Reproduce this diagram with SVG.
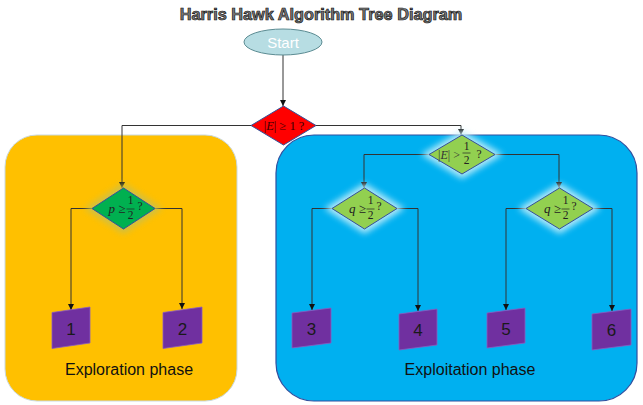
<svg xmlns="http://www.w3.org/2000/svg" width="643" height="405" viewBox="0 0 643 405">
<defs>
<style>
.title{font-family:"Liberation Sans",Arial,sans-serif;font-weight:bold;font-size:16.3px;fill:#7a7a7a;stroke:#111;stroke-width:0.7px;text-anchor:middle}
.phase{font-family:"Liberation Sans",Arial,sans-serif;font-size:16px;fill:#111;text-anchor:middle}
.num{font-family:"Liberation Sans",Arial,sans-serif;font-size:17px;fill:#1a1a1a;text-anchor:middle}
.math{font-family:"Liberation Serif","Times New Roman",serif;font-size:13px;fill:#222}
.frac{font-family:"Liberation Serif","Times New Roman",serif;font-size:11.5px;fill:#222;text-anchor:middle}
.conn{fill:none;stroke:#333;stroke-width:1}
.dia{stroke:#34509a;stroke-width:1}
.card{fill:#7030a0;stroke:#8a5cc0;stroke-width:0.8}
.bar{stroke:#222;stroke-width:0.7}
</style>
<marker id="arr" markerUnits="userSpaceOnUse" markerWidth="7" markerHeight="7" refX="6" refY="3" orient="auto">
<path d="M0,0 L6,3 L0,6 z" fill="#111"/>
</marker>
<filter id="blur" x="-50%" y="-50%" width="200%" height="200%">
<feGaussianBlur stdDeviation="3"/>
</filter>
</defs>
<rect width="643" height="405" fill="#ffffff"/>

<text class="title" x="321" y="19.5">Harris Hawk Algorithm Tree Diagram</text>

<g id="exploration-region">
<rect x="5" y="135" width="232" height="266" rx="32" fill="#ffc000" stroke="#c9d9e0" stroke-width="1"/>
<text class="phase" x="129" y="375">Exploration phase</text>
</g>
<g id="exploitation-region">
<rect x="276" y="135" width="361" height="266" rx="38" fill="#00b0f0" stroke="#2f4f9f" stroke-width="1.2"/>
<text class="phase" x="470" y="375">Exploitation phase</text>
</g>

<g id="connectors">
<path class="conn" d="M283,55 V106" marker-end="url(#arr)"/>
<path class="conn" d="M251,125.5 H122 V188" marker-end="url(#arr)"/>
<path class="conn" d="M316,125.5 H461 V135" marker-end="url(#arr)"/>
<path class="conn" d="M92,208.5 H71 V310" marker-end="url(#arr)"/>
<path class="conn" d="M155,208.5 H182 V309" marker-end="url(#arr)"/>
<path class="conn" d="M429,154.5 H364 V188" marker-end="url(#arr)"/>
<path class="conn" d="M495,154.5 H559 V188" marker-end="url(#arr)"/>
<path class="conn" d="M332,208.5 H312 V310" marker-end="url(#arr)"/>
<path class="conn" d="M397,208.5 H418 V311" marker-end="url(#arr)"/>
<path class="conn" d="M526,208.5 H506 V310" marker-end="url(#arr)"/>
<path class="conn" d="M593,208.5 H612 V311" marker-end="url(#arr)"/>
</g>

<g id="start">
<ellipse cx="283" cy="42" rx="39" ry="13" fill="#b7dde3" stroke="#5b8b92" stroke-width="1"/>
<text x="283" y="47.5" font-family="'Liberation Sans',Arial,sans-serif" font-size="15" fill="#ffffff" text-anchor="middle">Start</text>
</g>

<g id="decision-E1">
<polygon class="dia" points="283.5,106 316,125.5 283.5,145 251,125.5" fill="#ff0000"/>
<text class="math" x="284" y="130" text-anchor="middle" style="fill:#3a0000;font-size:12.5px">|<tspan font-style="italic">E</tspan>| ≥ 1 ?</text>
</g>

<g id="decision-p">
<polygon points="123.5,188 155,208.5 123.5,229 92,208.5" fill="#c8c050" stroke="#c8c050" stroke-width="8" filter="url(#blur)" opacity="0.9"/>
<polygon class="dia" points="123.5,188 155,208.5 123.5,229 92,208.5" fill="#00b050"/>
<text class="math" x="125.5" y="212.5" text-anchor="end"><tspan font-style="italic">p</tspan> ≥</text>
<text class="frac" x="130.5" y="204">1</text>
<line class="bar" x1="126.5" y1="209" x2="134.5" y2="209"/>
<text class="frac" x="130.5" y="218.5">2</text>
<text class="frac" x="140" y="210">?</text>
</g>

<g id="decision-E-half">
<polygon points="462,135 495,154.5 462,174 429,154.5" fill="#c8f0fa" stroke="#c8f0fa" stroke-width="8" filter="url(#blur)" opacity="0.9"/>
<polygon class="dia" points="462,135 495,154.5 462,174 429,154.5" fill="#92d050"/>
<text class="math" x="460" y="158.5" text-anchor="end" style="font-size:12px;fill:#333">|<tspan font-style="italic">E</tspan>| &gt;</text>
<text class="frac" x="466.5" y="150">1</text>
<line class="bar" x1="462.5" y1="153" x2="470.5" y2="153"/>
<text class="frac" x="466.5" y="164">2</text>
<text class="frac" x="479" y="158">?</text>
</g>

<g id="decision-q-left">
<polygon points="364.5,188 397,208.5 364.5,229 332,208.5" fill="#c8f0fa" stroke="#c8f0fa" stroke-width="8" filter="url(#blur)" opacity="0.9"/>
<polygon class="dia" points="364.5,188 397,208.5 364.5,229 332,208.5" fill="#92d050"/>
<text class="math" x="366" y="212.5" text-anchor="end"><tspan font-style="italic">q</tspan> ≥</text>
<text class="frac" x="370.5" y="204">1</text>
<line class="bar" x1="366.5" y1="209" x2="374.5" y2="209"/>
<text class="frac" x="370.5" y="218.5">2</text>
<text class="frac" x="379" y="210">?</text>
</g>

<g id="decision-q-right">
<polygon points="559.5,188 593,208.5 559.5,229 526,208.5" fill="#c8f0fa" stroke="#c8f0fa" stroke-width="8" filter="url(#blur)" opacity="0.9"/>
<polygon class="dia" points="559.5,188 593,208.5 559.5,229 526,208.5" fill="#92d050"/>
<text class="math" x="561" y="212.5" text-anchor="end"><tspan font-style="italic">q</tspan> ≥</text>
<text class="frac" x="565.5" y="204">1</text>
<line class="bar" x1="561.5" y1="209" x2="569.5" y2="209"/>
<text class="frac" x="565.5" y="218.5">2</text>
<text class="frac" x="574" y="210">?</text>
</g>

<g id="node-1">
<polygon class="card" points="52,312.5 90,307 90,343 52,348.5"/>
<text class="num" x="71" y="334.5">1</text>
</g>
<g id="node-2">
<polygon class="card" points="163,312.5 202,307 202,343 163,348.5"/>
<text class="num" x="182.5" y="334.5">2</text>
</g>
<g id="node-3">
<polygon class="card" points="292,313 331,308 331,343 292,348"/>
<text class="num" x="311.5" y="334.5">3</text>
</g>
<g id="node-4">
<polygon class="card" points="399,314 437,309 437,345 399,350"/>
<text class="num" x="418" y="336">4</text>
</g>
<g id="node-5">
<polygon class="card" points="487,313 525,308 525,343 487,348"/>
<text class="num" x="506" y="334.5">5</text>
</g>
<g id="node-6">
<polygon class="card" points="592,314 631,309 631,345 592,350"/>
<text class="num" x="611.5" y="336">6</text>
</g>
</svg>
